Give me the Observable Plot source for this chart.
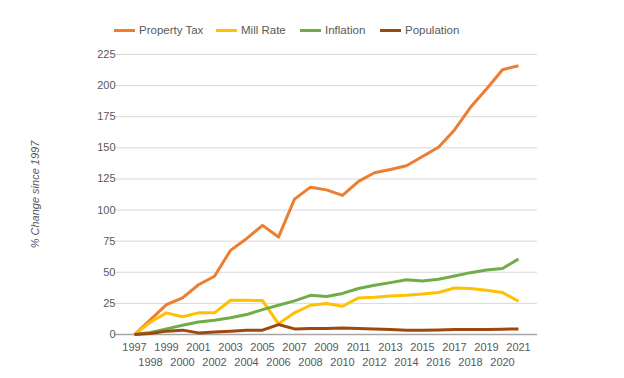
<!DOCTYPE html>
<html>
<head>
<meta charset="utf-8">
<script src="https://cdn.jsdelivr.net/npm/d3@7"></script>
<script src="https://cdn.jsdelivr.net/npm/@observablehq/plot@0.6"></script>
<style>
  html, body { margin: 0; padding: 0; background: #fff; }
  body { width: 624px; height: 378px; overflow: hidden; font-family: "Liberation Sans", Arial, sans-serif; }
  #legend { position: relative; height: 42px; width: 624px; }
  .item { position: absolute; top: 24px; display: flex; align-items: center; font-size: 11.5px; color: #595959; }
  .sw { width: 21px; height: 3px; margin-right: 4px; }
</style>
</head>
<body>
<div id="legend"></div>
<div id="chart"></div>
<script>
const years = ["1997","1998","1999","2000","2001","2002","2003","2004","2005","2006","2007","2008","2009","2010","2011","2012","2013","2014","2015","2016","2017","2018","2019","2020","2021"];
const propertyTax = [0, 12, 24, 29.4, 40, 46.8, 67.6, 77, 87.7, 78.3, 108.8, 118.4, 116.2, 111.8, 123, 130, 132.6, 135.6, 143, 150.5, 164.4, 182.6, 197.3, 212.8, 216];
const millRate = [0, 10, 17.4, 14.2, 17.4, 17.4, 27.5, 27.5, 27.3, 8.6, 17.4, 23.5, 24.9, 22.7, 29.4, 30, 31, 31.6, 32.6, 33.7, 37.4, 36.9, 35.6, 33.7, 26.7];
const inflation = [0, 1.6, 4.5, 7.5, 10, 11.5, 13.4, 16, 20, 23.5, 27, 31.5, 30.5, 33, 37, 39.6, 41.7, 44, 43, 44.4, 47, 49.7, 51.9, 53, 60.7];
const population = [0, 0.8, 2.7, 3.5, 1.3, 2.1, 2.7, 3.5, 3.5, 8, 4.5, 4.8, 4.8, 5.3, 4.8, 4.5, 4, 3.5, 3.5, 3.7, 4, 4, 4, 4.3, 4.5];
const seriesNames = ["Property Tax", "Mill Rate", "Inflation", "Population"];
const seriesColors = ["#ED7D31", "#FFC000", "#70AD47", "#9E480E"];
const yTicks = [0, 25, 50, 75, 100, 125, 150, 175, 200, 225];
const yLabel = "% Change since 1997";

const seriesValues = [propertyTax, millRate, inflation, population];
const data = [];
seriesNames.forEach((name, s) => {
  years.forEach((yr, i) => data.push({series: name, year: yr, value: seriesValues[s][i]}));
});

// Legend
const legendLefts = [114, 216, 300, 380];
const legend = document.getElementById("legend");
seriesNames.forEach((name, i) => {
  const it = document.createElement("div");
  it.className = "item";
  it.style.left = legendLefts[i] + "px";
  const sw = document.createElement("div");
  sw.className = "sw";
  sw.style.background = seriesColors[i];
  const tx = document.createElement("span");
  tx.textContent = name;
  it.appendChild(sw); it.appendChild(tx);
  legend.appendChild(it);
});

const oddRow = years.filter((d, i) => i % 2 === 0);
const evenRow = years.filter((d, i) => i % 2 === 1);

const chart = Plot.plot({
  width: 624,
  height: 336,
  marginLeft: 114,
  marginRight: 87,
  marginTop: 12,
  marginBottom: 44,
  style: {fontFamily: "Liberation Sans, Arial, sans-serif", fontSize: "11px", color: "#595959", background: "#fff"},
  x: {type: "point", domain: years, padding: 0.5, axis: null},
  y: {domain: [0, 225], axis: null},
  color: {domain: seriesNames, range: seriesColors},
  marks: [
    Plot.ruleY(yTicks.filter(d => d > 0), {stroke: "#d9d9d9", strokeWidth: 1}),
    Plot.ruleY([0], {stroke: "#a6a6a6", strokeWidth: 1.5}),
    Plot.text(yTicks, {x: () => years[0], y: d => d, text: d => String(d), textAnchor: "end", dx: -19, fill: "#595959", fontSize: 11}),
    Plot.text(oddRow, {x: d => d, y: () => 0, text: d => d, dy: 12.5, fill: "#595959", fontSize: 11}),
    Plot.text(evenRow, {x: d => d, y: () => 0, text: d => d, dy: 27.5, fill: "#595959", fontSize: 11}),
    Plot.text([yLabel], {frameAnchor: "left", text: d => d, rotate: -90, textAnchor: "middle", dx: -79, fill: "#595959", fontSize: 11, fontStyle: "italic"}),
    Plot.line(data, {x: "year", y: "value", z: "series", stroke: "series", strokeWidth: 3, strokeLinejoin: "round", strokeLinecap: "butt"})
  ]
});
document.getElementById("chart").appendChild(chart);
</script>
</body>
</html>
